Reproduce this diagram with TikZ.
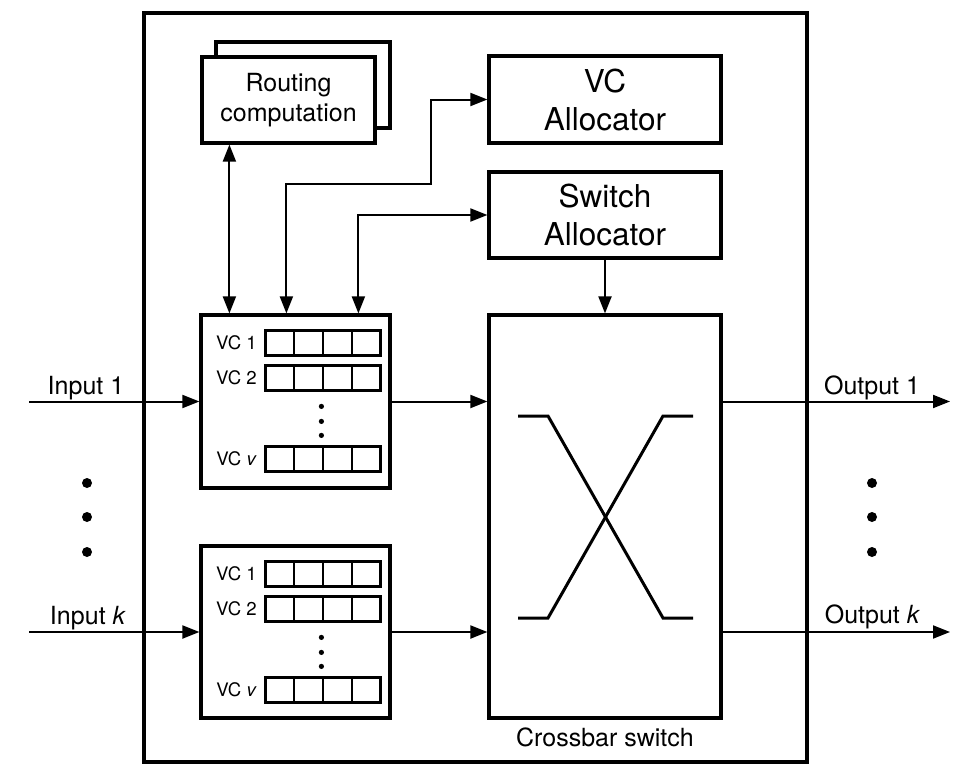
\documentclass[tikz,border=0pt]{standalone}
\usepackage{fontspec}
\setmainfont{TeX Gyre Heros}
\usetikzlibrary{arrows.meta,calc}
\newcommand\fmain{\fontsize{25}{30}\selectfont}
\newcommand\fbig{\fontsize{31.5}{38}\selectfont}
\newcommand\fsmall{\fontsize{18.6}{21}\selectfont}
\tikzset{
  box/.style={draw, line width=3.2pt, inner sep=0pt, align=center, fill=white},
  tip/.tip={Triangle[length=17pt,width=13pt]},
  conn/.style={line width=2pt, -tip},
  dconn/.style={line width=2pt, tip-tip},
  cell/.style={line width=2.3pt},
  xline/.style={line width=3pt},
  vcbuf/.pic={
    \foreach \t/\l in {17/{VC 1}, 52/{VC 2}, 133/{VC \textit{v}}} {
      \draw[cell] (66,\t) rectangle (181,\t+25);
      \foreach \k in {1,2,3} \draw[cell] (66+28.75*\k,\t) -- ++(0,25);
      \node[anchor=base east, inner sep=0pt, font=\fsmall] at (57.5,\t+19) {\l};
    }
    \foreach \d in {93,108,122} \fill (122,\d) circle (2.6);
  }
}
\begin{document}
\begin{tikzpicture}[x=1pt,y=-1pt]
\useasboundingbox (0,0) rectangle (963,779);
% outer frame
\node[draw, line width=3.2pt, inner sep=0pt, minimum width=663pt, minimum height=749pt] (frame) at (475.5,387.5) {};
% routing computation (stacked)
\node[box, minimum width=174pt, minimum height=86pt] (rcback) at (303,85) {};
\node[box, minimum width=173pt, minimum height=86pt, font=\fmain] (rc) at (288.5,100) {Routing\\computation};
% allocators
\node[box, minimum width=232pt, minimum height=87pt, font=\fbig] (vca) at (605,99.5) {VC\\Allocator};
\node[box, minimum width=232pt, minimum height=86pt, font=\fbig] (swa) at (605,215) {Switch\\Allocator};
% crossbar
\node[box, minimum width=232pt, minimum height=403pt] (xbar) at (605,516.5) {};
\node[anchor=base, inner sep=0pt, font=\fmain] (xlabel) at (605,746) {Crossbar switch};
\draw[xline] (518,416) -- (548,416) -- (663,618) -- (693,618);
\draw[xline] (518,618) -- (548,618) -- (663,416) -- (693,416);
% input buffers
\node[box, minimum width=189pt, minimum height=173pt] (buf1) at (295.5,401.5) {};
\node[box, minimum width=189pt, minimum height=172pt] (bufk) at (295.5,632) {};
\pic at (buf1.north west) {vcbuf};
\pic at (bufk.north west) {vcbuf};
% connectors from control units
\draw[dconn] ([xshift=29pt]rc.south west) -- ([xshift=30pt]buf1.north west);
\draw[dconn] ([xshift=87pt]buf1.north west) -- ++(0,-129) -| ($(vca.west)+(-56,0)$) -- (vca.west);
\draw[dconn] ([xshift=159pt]buf1.north west) |- (swa.west);
\draw[conn] (swa.south) -- (xbar.north);
% buffers to crossbar
\draw[conn] (buf1.east) -- (xbar.west |- buf1.east);
\draw[conn] (bufk.east) -- (xbar.west |- bufk.east);
% inputs and outputs
\coordinate (in1) at (29,401.5);
\coordinate (ink) at (29,632);
\coordinate (out1) at (950,401.5);
\coordinate (outk) at (950,632);
\draw[conn] (in1) -- (buf1.west);
\draw[conn] (ink) -- (bufk.west);
\draw[conn] (xbar.east |- buf1.east) -- (out1);
\draw[conn] (xbar.east |- bufk.east) -- (outk);
\node[anchor=base, inner sep=0pt, font=\fmain] (lin1) at (86,394) {Input 1};
\node[anchor=base, inner sep=0pt, font=\fmain] (link) at (88,624) {Input \textit{k}};
\node[anchor=base, inner sep=0pt, font=\fmain] (lout1) at (872,394) {Output 1};
\node[anchor=base, inner sep=0pt, font=\fmain] (loutk) at (872.5,623) {Output \textit{k}};
% ellipsis dots
\foreach \d in {483,517,552} {
  \fill (87,\d) circle (5);
  \fill (872,\d) circle (5);
}
\end{tikzpicture}
\end{document}
